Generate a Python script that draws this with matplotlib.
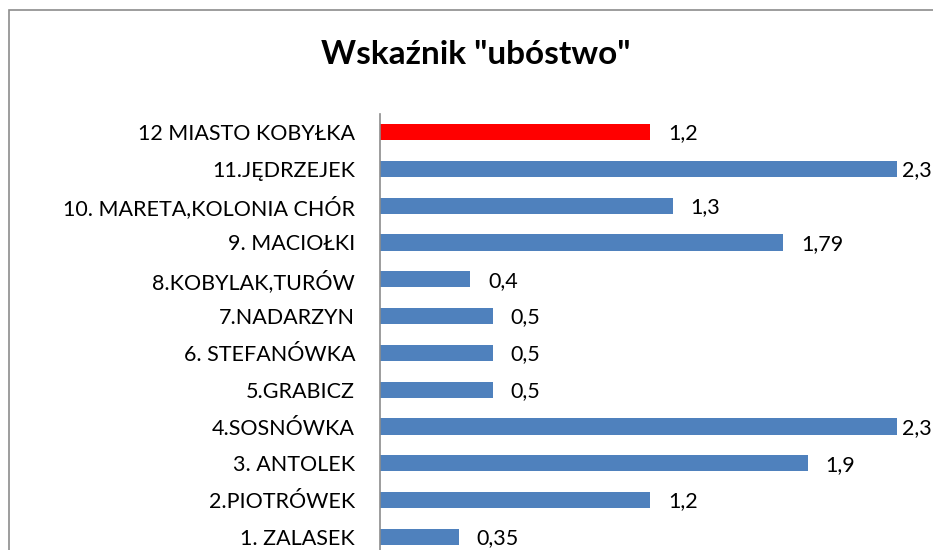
import matplotlib
matplotlib.use("Agg")
import matplotlib.pyplot as plt
from matplotlib.patches import Rectangle

# data (bottom to top)
labels = ["1. ZALASEK", "2.PIOTRÓWEK", "3. ANTOLEK", "4.SOSNÓWKA", "5.GRABICZ",
          "6. STEFANÓWKA", "7.NADARZYN", "8.KOBYLAK,TURÓW", "9. MACIOŁKI",
          "10. MARETA,KOLONIA CHÓR", "11.JĘDRZEJEK", "12 MIASTO KOBYŁKA"]
values = [0.35, 1.2, 1.9, 2.3, 0.5, 0.5, 0.5, 0.4, 1.79, 1.3, 2.3, 1.2]
value_text = ["0,35", "1,2", "1,9", "2,3", "0,5", "0,5", "0,5", "0,4", "1,79",
              "1,3", "2,3", "1,2"]
colors = ["#4f81bd"] * 11 + ["#ff0000"]

plt.rcParams['font.family'] = ['Lato', 'DejaVu Sans']

fig = plt.figure(figsize=(9.33, 5.5), dpi=100)
fig.patch.set_facecolor("white")

# outer chart frame (cropped at right and bottom)
fig.patches.append(Rectangle((8.5 / 933, -0.1), 1.2, 1.1 - 9.5 / 550,
                             transform=fig.transFigure, fill=False,
                             edgecolor="#8c8c8c", linewidth=1.2))

ax = fig.add_axes([380 / 933, -0.0098, 562.5 / 933, 0.8033])
y = list(range(len(labels)))
ax.barh(y, values, height=0.44, color=colors)
ax.set_ylim(-0.5, len(labels) - 0.5)
ax.set_xlim(0, 2.5)
ax.set_yticks(y)
ax.set_yticklabels(labels, fontsize=15.5)
ax.tick_params(axis="y", length=0, pad=18)
ax.set_xticks([])
for s in ["top", "right", "bottom"]:
    ax.spines[s].set_visible(False)
ax.spines["left"].set_color("#8c8c8c")
ax.spines["left"].set_linewidth(1.2)

for yi, v, t in zip(y, values, value_text):
    # labels of the longest bars sit right next to the bar end (edge of the plot)
    dx = 3 if v >= 2.3 else 13
    ax.annotate(t, (v, yi), xytext=(dx, -1), textcoords="offset points",
                va="center", ha="left", fontsize=15.5, annotation_clip=False)

fig.text(476 / 933, 1 - 55 / 550, 'Wskaźnik "ubóstwo"', ha="center", va="center",
         fontsize=24, fontweight="bold")

fig.savefig("out.png", dpi=100)
